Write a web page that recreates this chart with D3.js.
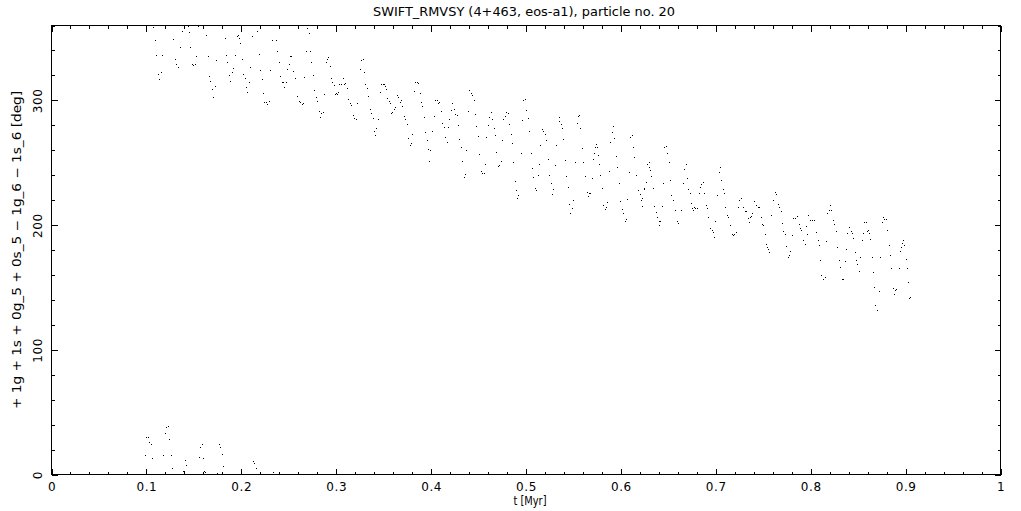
<!DOCTYPE html>
<html><head><meta charset="utf-8">
<script src="https://cdn.jsdelivr.net/npm/d3@7"></script>
<style>
body{margin:0;background:#fff}
svg{display:block}
text{font-family:"DejaVu Sans",sans-serif;fill:#000}
</style>
</head><body>
<svg id="c" width="1021" height="511"></svg>
<script>
const chartTitle = "SWIFT_RMVSY (4+463, eos-a1), particle no. 20";
const xLabel = "t [Myr]";
const yLabel = "+ 1g + 1s + 0g_5 + 0s_5 − 1g_6 − 1s_6 [deg]";
const xMajorTicks = [0,0.1,0.2,0.3,0.4,0.5,0.6,0.7,0.8,0.9,1];
const xTickLabels = ["0","0.1","0.2","0.3","0.4","0.5","0.6","0.7","0.8","0.9","1"];
const yMajorTicks = [0,100,200,300];
const yTickLabels = ["0","100","200","300"];

// [t (Myr), angle (deg)]
const angleEarly = [[.1074,358],[.1095,347.7],[.1106,335.6],[.1169,335.6],[.1127,321],[.1155,322.7],[.1137,317],[.1285,348.5],[.131,333],[.132,329],[.134,326.7],[.136,342],[.138,355],[.141,359.7],[.144,359],[.145,354],[.1464,342],[.1486,329],[.1496,327.8],[.1517,328.4],[.1528,334.8],[.155,359.5],[.1633,351.7],[.1654,334.8],[.1665,319.5],[.1675,314.9],[.1696,308.4],[.1707,302.6],[.1728,311.4],[.1739,331.6],[.1833,349.3],[.1844,335.6],[.1855,330],[.1876,320.3],[.1886,315.5],[.1907,322.7],[.1918,325.9],[.1939,335.6],[.1957,350.9],[.1967,351.7],[.1978,349.3],[.1992,345.3],[.2013,332.4],[.2023,321],[.2044,317.9],[.2055,310.6],[.2065,306.6],[.2087,314.6],[.2097,326.7],[.2118,350.9],[.2171,355],[.2192,336.4],[.2203,324.3],[.2224,317],[.2234,305.8],[.2245,298.5],[.2266,298.5],[.2276,296.9],[.2297,299.4],[.2308,324.3],[.2329,347.7],[.2371,347.7],[.2382,338.8],[.2403,330.7],[.2414,319.5],[.2435,314.6],[.2445,314.6],[.2456,310.6],[.2477,314],[.2487,325.1],[.2508,328.4],[.2519,334.8],[.2529,334.8],[.2551,323.5],[.2572,317.9],[.2593,303.4],[.2614,299.4],[.2625,298.5],[.2646,296.9],[.2656,297.7],[.2667,318.7],[.2688,338.8],[.2698,357.3],[.2719,353.3],[.273,338.8],[.2741,330.7],[.2762,320.3],[.2772,308.2],[.2793,302.6],[.2804,299.4],[.2825,291.3],[.2835,286.5],[.2846,289.7],[.2867,290.5],[.2878,305],[.2899,330],[.291,332.4],[.292,334],[.2941,327.5],[.2952,317.9],[.2962,314.6],[.2983,312.2],[.2994,305],[.3004,305.8],[.3015,305],[.3025,306.6],[.3036,313],[.3057,313],[.3078,317.9],[.3089,313],[.3099,313.8],[.312,309.8],[.3131,300.9],[.3152,297.7],[.3162,296.1],[.3183,288.1],[.3194,285.6],[.3215,284.8],[.3226,297.7],[.3257,325.1],[.3268,331.6],[.3289,332.4],[.33,322.7],[.331,313],[.3331,309.8],[.3342,303.4],[.3363,292.9],[.3373,289.7],[.3394,285.6],[.3405,275.2],[.3416,272],[.3426,277.6],[.3447,284.8]];

const angleMid = [[.3476,313],[.3497,313],[.3507,313],[.3518,311.4],[.3528,309],[.3465,306.5],[.3539,301.7],[.356,299.3],[.357,297.7],[.3623,294.5],[.3613,292.9],[.3592,290.4],[.3581,289.6],[.3644,304.1],[.3655,302.5],[.3687,300.1],[.3676,298.5],[.3697,295.3],[.3718,287.2],[.3729,284.8],[.375,280.8],[.3803,272.7],[.376,269.5],[.3792,265.5],[.3781,263.9],[.3834,314.6],[.3855,314.6],[.3866,313.8],[.3824,307.4],[.3887,305.7],[.3897,298.5],[.3908,295.3],[.3929,286.4],[.394,274.3],[.3961,267.9],[.3971,260.6],[.3992,259.8],[.3982,251],[.4014,275.1],[.4035,287.2],[.4045,300.1],[.4066,300.1],[.4077,297.7],[.4087,298.5],[.4108,291.2],[.4119,281.6],[.414,278.4],[.4151,270.3],[.4172,266.3],[.4182,278.4],[.4193,284.8],[.4214,292.1],[.4224,297.7],[.4246,292.9],[.4256,288.8],[.4277,288],[.4288,280],[.4298,268.7],[.4319,262.3],[.433,251],[.4376,259.8],[.4355,238.1],[.4365,240.5],[.4393,291.2],[.4407,308.2],[.4425,305.7],[.4435,304.1],[.446,300.1],[.4471,288.8],[.4478,279.2],[.4499,271.1],[.4509,256.6],[.4576,248.6],[.4534,242.9],[.4544,241.3],[.4566,241.3],[.4583,270.3],[.4608,280],[.4615,286.4],[.4636,290.4],[.4646,284.8],[.4671,277.6],[.4682,271.9],[.4689,258.2],[.4713,246.9],[.4724,247.7],[.4745,251],[.4755,267.9],[.4766,284.8],[.4787,287.2],[.4798,290.4],[.4819,289.6],[.4829,280.8],[.485,272.7],[.4861,265.5],[.4871,250.2],[.4893,234.9],[.4903,227.6],[.4914,221.2],[.4924,223.6],[.4956,257.4],[.4966,284],[.4977,300.1],[.4998,300.9],[.5009,292.1],[.503,285.6],[.504,275.1],[.5061,257.4],[.5072,245.3],[.5082,238.1],[.5103,229.2],[.5114,227.6],[.5135,239.7],[.5146,248.6],[.5156,263.9],[.5177,276.8],[.5188,275.1],[.5209,272.7],[.5219,267.9],[.5241,252.6],[.5251,239.7],[.5265,233.2],[.5286,228.4],[.5276,224.4],[.5314,247.7],[.5325,263.9],[.535,286.4],[.5357,283.2],[.5371,280.8],[.5381,277.6],[.5392,268.7],[.542,251.8],[.543,238.9],[.5452,230],[.5462,216.3],[.5473,209.1],[.5494,213.1],[.5504,219.6],[.5525,250.2],[.5539,281.6],[.555,287.2],[.5568,288],[.5578,277.6],[.5599,261.4],[.561,250.2],[.5631,238.9],[.5645,226],[.5655,222.8],[.5666,225.2],[.5684,225.2],[.5705,237.3],[.5715,252.6],[.5726,257.4],[.5736,262.2],[.5747,264.7],[.5757,262.2],[.5768,255.8],[.5779,248.6],[.5789,239.7],[.581,229.2],[.5821,215.5],[.5842,212.3],[.5849,213.9],[.5863,217.9],[.5884,242.9],[.5895,266.3],[.5916,274.3],[.5926,279.2],[.5937,269.5],[.5958,255],[.5968,246.1],[.5989,233.2],[.6,218.8],[.6021,212.3],[.6032,209.1],[.6046,202.6],[.606,204.3],[.6074,220.4],[.6095,242.1],[.6105,270.3],[.6127,271.9],[.6137,262.2],[.6148,254.2],[.6169,239.7],[.6183,227.6],[.6204,224.4],[.6215,219.6],[.6225,221.2],[.6232,214.7],[.6246,228.4],[.6253,229.2],[.6274,234.1],[.6285,248.6],[.6299,250.2],[.6306,246.1],[.6317,243.7],[.6327,238.9],[.6341,229.2],[.6359,214.7],[.6373,209.9],[.639,205.9],[.6404,202.6],[.6411,199.4],[.6422,202.6],[.6436,214.7],[.6454,233.2],[.6464,262.2],[.6485,263],[.6496,257.4],[.6517,250.2],[.6527,235.7],[.6538,223.6],[.6552,219.6],[.6573,211.5],[.6594,202.6],[.6605,201]];

const angleLate = [[.664,211.5],[.6661,233.3],[.6672,244.6],[.6693,248.6],[.6703,237.3],[.6714,228.5],[.6735,225.2],[.6745,217.2],[.6756,213.2],[.6777,214],[.6788,213.2],[.6809,213.2],[.6767,211.5],[.6823,225.2],[.684,230.1],[.6851,232.5],[.6872,234.1],[.6883,225.2],[.6904,215.6],[.6914,213.2],[.6925,205.9],[.6946,197],[.6967,195.4],[.6978,193.8],[.6988,189.8],[.6999,202.7],[.702,223.6],[.7034,242.2],[.7051,246.2],[.7062,235.7],[.7083,228.5],[.7094,225.2],[.7104,214],[.7122,207.5],[.7136,205.9],[.7157,199.5],[.7171,192.2],[.7188,191.4],[.7199,192.2],[.7213,193.8],[.7234,214],[.7248,219.6],[.7266,221.2],[.7276,221.2],[.7297,214],[.7308,210.7],[.7319,210.7],[.734,205.1],[.7354,201.9],[.7361,205.9],[.7375,206.7],[.7385,209.1],[.7413,218.8],[.7424,215.6],[.7445,214],[.7456,214],[.7477,205.9],[.7491,200.3],[.7501,199.5],[.7519,192.2],[.7533,184.2],[.7547,181.7],[.7558,180.1],[.7568,177.7],[.7589,207.5],[.7603,219.6],[.7624,226],[.7635,224.4],[.7656,216.4],[.767,214],[.7688,210.7],[.7698,201.1],[.7712,194.6],[.773,192.2],[.7741,182.5],[.7762,173.7],[.7772,175.3],[.7783,178.5],[.7804,191.4],[.7814,205.1],[.7835,205.1],[.7857,206.7],[.7878,200.3],[.7892,197],[.7906,195.4],[.792,187.4],[.7941,184.2],[.7951,198.7],[.7966,192.2],[.798,207.5],[.7994,203.5],[.8015,203.5],[.8036,203.5],[.8057,193.8],[.8078,187.4],[.8089,183.3],[.8099,171.3],[.8117,159.2],[.8131,156],[.8152,157.6],[.8162,186.6],[.8173,209.1],[.8194,211.5],[.8205,215.6],[.8219,211.5],[.8236,203.5],[.8254,200.3],[.8268,194.6],[.8278,181.7],[.8299,171.3],[.831,165.6],[.8331,156],[.8342,156],[.8363,170.5],[.8373,180.1],[.8384,193],[.8405,197.8],[.8426,194.6],[.8437,193],[.8447,189],[.8468,177.7],[.8479,171.3],[.8489,168],[.8511,162.4],[.8521,173.7],[.8542,187.4],[.8553,193],[.8563,201.9],[.8584,201.9],[.8595,194.6],[.8605,195.4],[.8616,193],[.8627,188.2],[.8648,173.7],[.8658,161.6],[.8669,150.3],[.8686,135.8],[.87,131.8],[.8721,147.1],[.8732,173.7],[.8753,201.9],[.8764,205.9],[.8774,204.3],[.8795,204.3],[.8806,195.4],[.8827,183.3],[.8837,175.3],[.8848,164.8],[.8869,149.5],[.888,144.7],[.8897,147.9],[.8908,148.7],[.8932,164.8],[.8943,178.5],[.8953,181.7],[.8964,185],[.8975,187.4],[.8985,183.3],[.9006,172.1],[.9017,164.8],[.9027,154.3],[.9041,141.5],[.9052,142.3]];

const angleWrapped = [[.099,15],[.1,29.5],[.1021,29.5],[.1032,25.5],[.1053,23.9],[.1063,12.6],[.118,15],[.1201,32.8],[.1211,37.6],[.1232,38.4],[.1243,27.9],[.1264,15],[.1274,4.6],[.139,2.1],[.1401,2.1],[.1412,11],[.1422,7],[.1559,13.4],[.157,21.5],[.1591,23.9],[.1601,12.6],[.1612,2.1],[.1623,1.3],[.1749,0.5],[.177,23.9],[.1781,21.5],[.1802,15.8],[.1812,6.2],[.2129,10.2],[.2139,8.6],[.216,4.6],[.234,1.3]];

const W = 1021, H = 511;
const L = 51.5, R = 1000.5, T = 25.5, B = 474.5;
const svg = d3.select("#c");
const x = d3.scaleLinear().domain([0,1]).range([L,R]);
const y = d3.scaleLinear().domain([0,360]).range([B,T]);
const xMinor = d3.range(0, 1.0001, 0.02);
const yMinor = d3.range(0, 360.01, 20);

const g = svg.append("g").attr("shape-rendering","crispEdges");
// frame
g.append("rect").attr("x",L).attr("y",T).attr("width",R-L).attr("height",B-T)
  .attr("fill","none").attr("stroke","#000").attr("stroke-width",1);

function styleAxis(sel){ sel.select(".domain").remove(); sel.selectAll("line").attr("stroke","#000"); }

// bottom
g.append("g").attr("transform",`translate(0,${B})`)
  .call(d3.axisBottom(x).tickValues(xMinor).tickSize(-3).tickFormat("")).call(styleAxis);
const xb = g.append("g").attr("transform",`translate(0,${B})`)
  .call(d3.axisBottom(x).tickValues(xMajorTicks).tickSize(-6).tickFormat((d,i)=>xTickLabels[i])).call(styleAxis);
xb.selectAll("text").attr("y",16).attr("dy",0).attr("font-size",12).attr("letter-spacing",0.6)
  .style("font-family","DejaVu Sans");
// top
g.append("g").attr("transform",`translate(0,${T})`)
  .call(d3.axisTop(x).tickValues(xMinor).tickSize(-3).tickFormat("")).call(styleAxis);
g.append("g").attr("transform",`translate(0,${T})`)
  .call(d3.axisTop(x).tickValues(xMajorTicks).tickSize(-6).tickFormat("")).call(styleAxis);
// left
g.append("g").attr("transform",`translate(${L},0)`)
  .call(d3.axisLeft(y).tickValues(yMinor).tickSize(-3).tickFormat("")).call(styleAxis);
const yl = g.append("g").attr("transform",`translate(${L},0)`)
  .call(d3.axisLeft(y).tickValues(yMajorTicks).tickSize(-6).tickFormat((d,i)=>yTickLabels[i])).call(styleAxis);
yl.selectAll("text").attr("x",0).attr("y",-9.5).attr("dy",0).attr("transform","rotate(-90)")
  .attr("text-anchor","middle").attr("font-size",12).attr("letter-spacing",0.6)
  .style("font-family","DejaVu Sans");
// right
g.append("g").attr("transform",`translate(${R},0)`)
  .call(d3.axisRight(y).tickValues(yMinor).tickSize(-3).tickFormat("")).call(styleAxis);
g.append("g").attr("transform",`translate(${R},0)`)
  .call(d3.axisRight(y).tickValues(yMajorTicks).tickSize(-6).tickFormat("")).call(styleAxis);

// points
const allPoints = angleEarly.concat(angleMid, angleLate, angleWrapped);
svg.append("g").attr("shape-rendering","crispEdges").selectAll("rect").data(allPoints).join("rect")
  .attr("x", d => Math.floor(x(d[0])))
  .attr("y", d => Math.floor(y(d[1])))
  .attr("width",1).attr("height",1).attr("fill","#000");

// titles
svg.append("text").attr("x",524).attr("y",16).attr("text-anchor","middle")
  .attr("font-size",12).attr("textLength",302).attr("lengthAdjust","spacingAndGlyphs").text(chartTitle);
svg.append("text").attr("x",530).attr("y",505).attr("text-anchor","middle")
  .attr("font-size",13).attr("textLength",33).attr("lengthAdjust","spacingAndGlyphs").text(xLabel);
svg.append("text").attr("transform","translate(21,250) rotate(-90)").attr("text-anchor","middle")
  .attr("font-size",12).attr("textLength",318).attr("lengthAdjust","spacingAndGlyphs").text(yLabel);
</script>
</body></html>
